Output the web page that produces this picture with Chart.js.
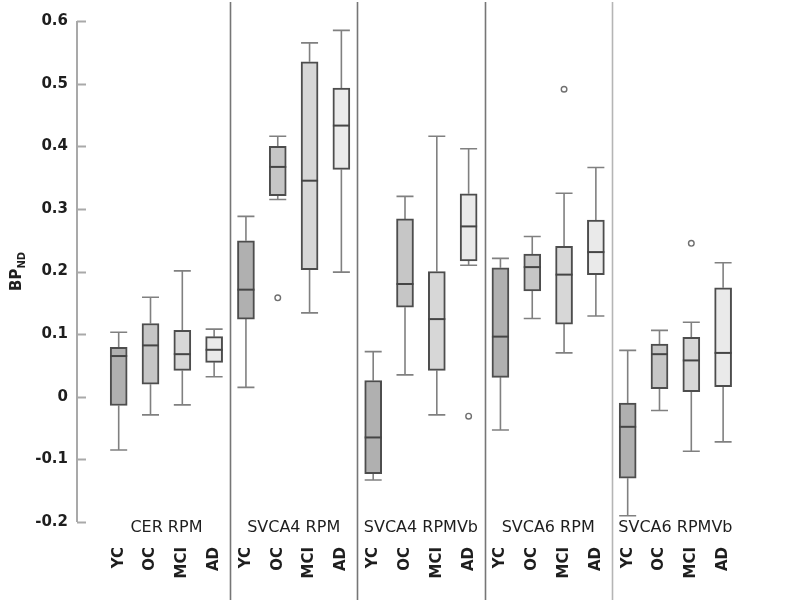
<!DOCTYPE html>
<html>
<head>
<meta charset="utf-8">
<script src="https://cdn.jsdelivr.net/npm/chart.js@4/dist/chart.umd.min.js"></script>
<style>
  html, body { margin: 0; padding: 0; background: #fff; }
  #wrap { width: 796px; height: 604px; }
</style>
</head>
<body>
<div id="wrap"><canvas id="bp-chart"></canvas></div>
<script>
// Regions (groups of four boxes) and subject groups
const regions = ['CER RPM', 'SVCA4 RPM', 'SVCA4 RPMVb', 'SVCA6 RPM', 'SVCA6 RPMVb'];
const subjects = ['YC', 'OC', 'MCI', 'AD'];
const subjectColors = ['#b0b0b0', '#c6c6c6', '#d7d7d7', '#eaeaea'];

// Box statistics (5 regions x YC, OC, MCI, AD)
const whiskerLow = [
    -0.085, -0.029, -0.013, 0.032,
    0.015, 0.315, 0.134, 0.199,
    -0.133, 0.035, -0.029, 0.210,
    -0.053, 0.125, 0.070, 0.129,
    -0.190, -0.022, -0.087, -0.072
];
const quartile1 = [
    -0.014, 0.020, 0.042, 0.055,
    0.124, 0.321, 0.203, 0.363,
    -0.123, 0.143, 0.042, 0.217,
    0.031, 0.169, 0.116, 0.195,
    -0.130, 0.013, 0.008, 0.016
];
const medians = [
    0.065, 0.082, 0.068, 0.075,
    0.171, 0.367, 0.345, 0.433,
    -0.065, 0.180, 0.124, 0.272,
    0.096, 0.207, 0.195, 0.231,
    -0.048, 0.068, 0.058, 0.070
];
const quartile3 = [
    0.079, 0.117, 0.106, 0.096,
    0.249, 0.400, 0.535, 0.493,
    0.026, 0.284, 0.200, 0.324,
    0.206, 0.228, 0.240, 0.282,
    -0.010, 0.084, 0.095, 0.174
];
const whiskerHigh = [
    0.103, 0.159, 0.201, 0.108,
    0.288, 0.416, 0.565, 0.585,
    0.072, 0.320, 0.416, 0.396,
    0.221, 0.256, 0.325, 0.366,
    0.074, 0.106, 0.119, 0.214
];
// Outliers as [box index, value]
const outliers = [[5, 0.158], [11, -0.031], [14, 0.491], [18, 0.245]];

const yTicks = [-0.2, -0.1, 0, 0.1, 0.2, 0.3, 0.4, 0.5, 0.6];

const categoryLabels = [];
regions.forEach(() => subjects.forEach(s => categoryLabels.push(s)));

const FONT = "'DejaVu Sans', Verdana, sans-serif";
const BOX_WIDTH = 17;

// Whiskers behind the boxes; medians, outliers, separators and labels on top
const boxplotExtras = {
    id: 'boxplotExtras',
    beforeDatasetsDraw(chart) {
        const { ctx, scales: { x, y } } = chart;
        ctx.save();
        ctx.strokeStyle = '#808080';
        ctx.lineWidth = 1.6;
        categoryLabels.forEach((_, i) => {
            const cx = x.getPixelForValue(i);
            const half = BOX_WIDTH / 2;
            ctx.beginPath();
            ctx.moveTo(cx, y.getPixelForValue(whiskerHigh[i]));
            ctx.lineTo(cx, y.getPixelForValue(quartile3[i]));
            ctx.moveTo(cx, y.getPixelForValue(quartile1[i]));
            ctx.lineTo(cx, y.getPixelForValue(whiskerLow[i]));
            ctx.moveTo(cx - half, y.getPixelForValue(whiskerHigh[i]));
            ctx.lineTo(cx + half, y.getPixelForValue(whiskerHigh[i]));
            ctx.moveTo(cx - half, y.getPixelForValue(whiskerLow[i]));
            ctx.lineTo(cx + half, y.getPixelForValue(whiskerLow[i]));
            ctx.stroke();
        });
        ctx.restore();
    },
    afterDatasetsDraw(chart) {
        const { ctx, chartArea, scales: { x, y } } = chart;
        ctx.save();

        // medians
        ctx.strokeStyle = '#454545';
        ctx.lineWidth = 2;
        medians.forEach((m, i) => {
            const cx = x.getPixelForValue(i);
            const py = y.getPixelForValue(m);
            ctx.beginPath();
            ctx.moveTo(cx - BOX_WIDTH / 2, py);
            ctx.lineTo(cx + BOX_WIDTH / 2, py);
            ctx.stroke();
        });

        // outliers
        ctx.strokeStyle = '#707070';
        ctx.lineWidth = 1.4;
        outliers.forEach(([i, v]) => {
            ctx.beginPath();
            ctx.arc(x.getPixelForValue(i), y.getPixelForValue(v), 2.8, 0, Math.PI * 2);
            ctx.stroke();
        });

        // region separators
        for (let g = 1; g < regions.length; g++) {
            const sx = Math.round(x.getPixelForValue(g * 4 - 0.5)) + 0.5;
            ctx.strokeStyle = g === regions.length - 1 ? '#b5b5b5' : '#767676';
            ctx.lineWidth = 1.6;
            ctx.beginPath();
            ctx.moveTo(sx, 2);
            ctx.lineTo(sx, 600);
            ctx.stroke();
        }

        // y axis line and inward tick marks
        const ax = chartArea.left;
        ctx.strokeStyle = '#a9a9a9';
        ctx.lineWidth = 2;
        ctx.beginPath();
        ctx.moveTo(ax, y.getPixelForValue(0.6));
        ctx.lineTo(ax, y.getPixelForValue(-0.2));
        yTicks.forEach(v => {
            const py = Math.round(y.getPixelForValue(v)) + 0.5;
            ctx.moveTo(ax, py);
            ctx.lineTo(ax + 9, py);
        });
        ctx.stroke();

        // region names
        ctx.fillStyle = '#1e1e1e';
        ctx.font = '16px ' + FONT;
        ctx.textAlign = 'center';
        ctx.textBaseline = 'middle';
        regions.forEach((name, g) => {
            ctx.fillText(name, x.getPixelForValue(g * 4 + 1.5), 528);
        });

        // y axis title BP_ND
        ctx.translate(21, 291);
        ctx.rotate(-Math.PI / 2);
        ctx.textAlign = 'left';
        ctx.textBaseline = 'alphabetic';
        ctx.font = 'bold 15px ' + FONT;
        ctx.fillText('BP', 0, 0);
        const w = ctx.measureText('BP').width;
        ctx.font = 'bold 10px ' + FONT;
        ctx.fillText('ND', w, 4);
        ctx.restore();
    }
};

new Chart(document.getElementById('bp-chart').getContext('2d'), {
    type: 'bar',
    data: {
        datasets: [{
            data: categoryLabels.map((_, i) => ({ x: i, y: [quartile1[i], quartile3[i]] })),
            backgroundColor: categoryLabels.map((_, i) => subjectColors[i % 4]),
            borderColor: '#4d4d4d',
            borderWidth: 2,
            borderSkipped: false,
            barThickness: BOX_WIDTH
        }]
    },
    options: {
        responsive: true,
        maintainAspectRatio: false,
        animation: false,
        layout: { padding: { top: 21, right: 40, left: 0, bottom: 0 } },
        plugins: {
            legend: { display: false },
            tooltip: { enabled: false }
        },
        scales: {
            x: {
                type: 'linear',
                min: -0.777,
                max: 19.5,
                afterBuildTicks: scale => {
                    scale.ticks = categoryLabels.map((_, i) => ({ value: i }));
                },
                afterFit: scale => { scale.height = 82; },
                grid: { display: false, drawTicks: false },
                border: { display: false },
                ticks: {
                    autoSkip: false,
                    minRotation: 90,
                    maxRotation: 90,
                    padding: 25,
                    color: '#1e1e1e',
                    font: { family: FONT, size: 15, weight: 'bold' },
                    callback: v => categoryLabels[v]
                }
            },
            y: {
                min: -0.2,
                max: 0.6,
                afterBuildTicks: scale => {
                    scale.ticks = yTicks.map(v => ({ value: v }));
                },
                afterFit: scale => { scale.width = 77; },
                grid: { display: false, drawTicks: false },
                border: { display: false },
                ticks: {
                    padding: 9,
                    color: '#1e1e1e',
                    font: { family: FONT, size: 15, weight: 'bold' },
                    callback: v => String(Math.round(v * 10) / 10)
                }
            }
        }
    },
    plugins: [boxplotExtras]
});
</script>
</body>
</html>
